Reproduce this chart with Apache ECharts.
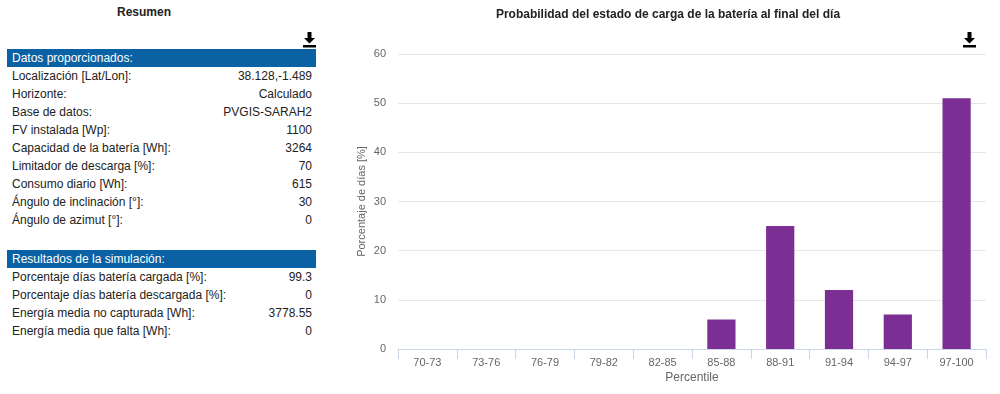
<!DOCTYPE html>
<html><head><meta charset="utf-8">
<script src="https://cdn.jsdelivr.net/npm/echarts@6/dist/echarts.min.js"></script>
<style>
html,body{margin:0;padding:0;background:#fff;}
body{width:1000px;height:394px;overflow:hidden;position:relative;font-family:"Liberation Sans",Arial,sans-serif;}
#chart{position:absolute;left:336px;top:0;width:664px;height:394px;}
#left{position:absolute;left:0;top:0;width:336px;height:394px;font-size:12px;color:#222;}
#left .ttl{position:absolute;left:144px;top:5px;transform:translateX(-50%);font-weight:bold;font-size:12px;color:#222;white-space:nowrap;}
#left .dl{position:absolute;left:302px;top:32px;}
.tbl{position:absolute;left:7px;width:309px;}
.hdr{height:18px;line-height:18px;background:#0a62a4;color:#fff;padding-left:5px;box-sizing:border-box;}
.row{height:18px;line-height:18px;display:flex;justify-content:space-between;padding:0 4px 0 5px;box-sizing:border-box;}
</style></head>
<body>
<div id="left">
  <div class="ttl">Resumen</div>
  <svg class="dl" width="15" height="16" viewBox="0 0 15 16"><polygon points="5.5,0 9.5,0 9.5,6 13,6 7.5,11.5 2,6 5.5,6" fill="#000"/><rect x="1" y="13" width="13" height="2.5" fill="#000"/></svg>
  <div class="tbl" id="t1" style="top:49px"></div>
  <div class="tbl" id="t2" style="top:250px"></div>
</div>
<div id="chart"></div>
<script>
// Summary table data
const datosTitle = "Datos proporcionados:";
const datosLabels = ["Localización [Lat/Lon]:","Horizonte:","Base de datos:","FV instalada [Wp]:","Capacidad de la batería [Wh]:","Limitador de descarga [%]:","Consumo diario [Wh]:","Ángulo de inclinación [°]:","Ángulo de azimut [°]:"];
const datosValues = ["38.128,-1.489","Calculado","PVGIS-SARAH2","1100","3264","70","615","30","0"];
const resultTitle = "Resultados de la simulación:";
const resultLabels = ["Porcentaje días batería cargada [%]:","Porcentaje días batería descargada [%]:","Energía media no capturada [Wh]:","Energía media que falta [Wh]:"];
const resultValues = ["99.3","0","3778.55","0"];

// Chart data
const categories = ["70-73","73-76","76-79","79-82","82-85","85-88","88-91","91-94","94-97","97-100"];
const percentDays = [0,0,0,0,0,6,25,12,7,51];

function fill(id, title, labels, values){
  const el = document.getElementById(id);
  let h = '<div class="hdr">'+title+'</div>';
  labels.forEach((l,i)=>{ h += '<div class="row"><span>'+l+'</span><span>'+values[i]+'</span></div>'; });
  el.innerHTML = h;
}
fill('t1', datosTitle, datosLabels, datosValues);
fill('t2', resultTitle, resultLabels, resultValues);

const chart = echarts.init(document.getElementById('chart'), null, {renderer:'canvas'});
const font = '"Liberation Sans", Arial, sans-serif';
chart.setOption({
  animation:false,
  textStyle:{fontFamily:font},
  title:{text:'Probabilidad del estado de carga de la batería al final del día', left:'center', top:4,
    textStyle:{fontSize:12, fontWeight:'bold', color:'#222', fontFamily:font}},
  grid:{left:62, right:14, top:54, bottom:45, containLabel:false, outerBoundsMode:'none'},
  xAxis:{type:'category', data:categories,
    name:'Percentile', nameLocation:'middle', nameGap:23, nameMoveOverlap:false,
    nameTextStyle:{color:'#666', fontSize:12, fontFamily:font},
    axisLine:{lineStyle:{color:'#ccd6eb'}},
    axisTick:{show:true, length:10, lineStyle:{color:'#ccd6eb'}},
    axisLabel:{color:'#666', fontSize:11, margin:8, fontFamily:font}},
  yAxis:{type:'value', min:0, max:60, interval:10,
    name:'Porcentaje de días [%]', nameLocation:'middle', nameGap:31, nameMoveOverlap:false,
    nameTextStyle:{color:'#666', fontSize:11, fontFamily:font},
    axisLine:{show:false}, axisTick:{show:false},
    axisLabel:{color:'#666', fontSize:11, margin:12, fontFamily:font},
    splitLine:{lineStyle:{color:'#e6e6e6'}}},
  series:[{type:'bar', data:percentDays, barWidth:'48%', itemStyle:{color:'#7b2f95'}}],
  graphic:[{type:'group', left:627, top:32, children:[
    {type:'polygon', shape:{points:[[5.5,0],[9.5,0],[9.5,6],[13,6],[7.5,11.5],[2,6],[5.5,6]]}, style:{fill:'#000'}},
    {type:'rect', shape:{x:1,y:13,width:13,height:2.5}, style:{fill:'#000'}}
  ]}]
});
</script>
</body></html>
